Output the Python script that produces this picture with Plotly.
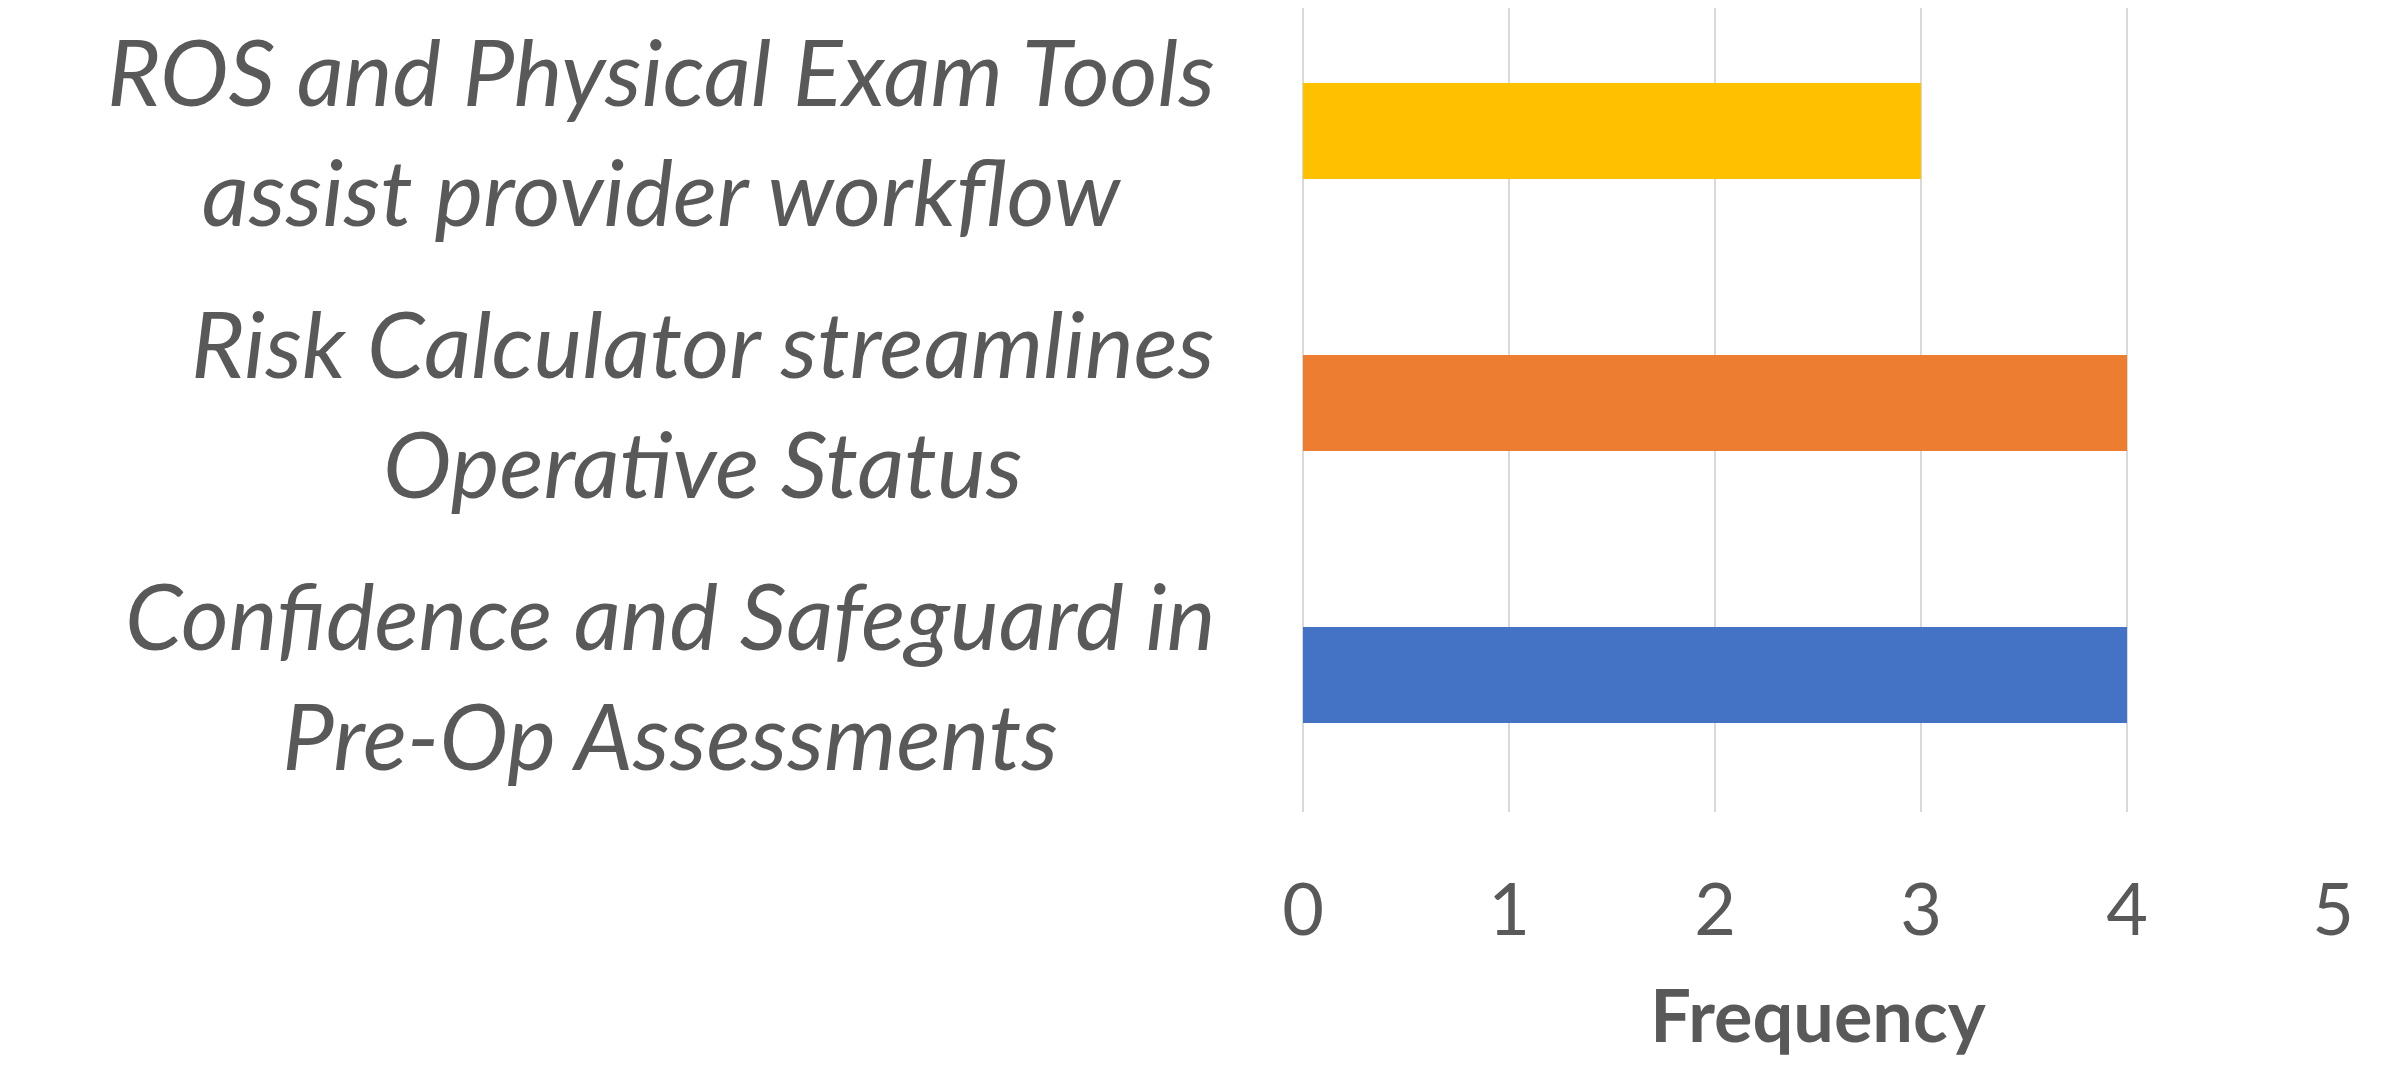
import plotly.graph_objects as go

categories = [
    "Confidence and Safeguard in<br>Pre-Op Assessments",
    "Risk Calculator streamlines<br>Operative Status",
    "ROS and Physical Exam Tools<br>assist provider workflow",
]
values = [4, 4, 3]
colors = ["#4472C4", "#ED7D31", "#FFC000"]
x_ticks = [0, 1, 2, 3, 4, 5]
x_title = "Frequency"

TEXT = "#595959"
FONT = "Lato"

fig = go.Figure()
fig.add_trace(go.Bar(
    x=values, y=categories, orientation="h",
    marker=dict(color=colors, line=dict(width=0)),
    showlegend=False,
))

for c in categories:
    fig.add_annotation(
        x=0, xref="paper", y=c, yref="y",
        text=f"<i>{c}</i>", showarrow=False,
        xanchor="right", yanchor="middle", align="center",
        xshift=-86,
        font=dict(family=FONT, size=92, color=TEXT),
    )

fig.update_layout(
    width=2382, height=1049,
    margin=dict(l=1295, r=57, t=0, b=245),
    paper_bgcolor="white", plot_bgcolor="white",
    bargap=0.647,
    font=dict(family=FONT, color=TEXT),
)
fig.update_xaxes(
    range=[0, 5], tickvals=x_ticks, ticktext=[str(t) for t in x_ticks],
    showgrid=True, gridcolor="#D9D9D9", gridwidth=2,
    zeroline=True, zerolinecolor="#D9D9D9", zerolinewidth=2,
    showline=False,
    ticks="outside", ticklen=36, tickcolor="rgba(0,0,0,0)",
    tickfont=dict(family=FONT, size=72, color=TEXT),
    title=dict(text=f"<b>{x_title}</b>", font=dict(family=FONT, size=72, color=TEXT), standoff=42),
)
fig.update_yaxes(range=[-0.504, 2.452], showticklabels=False, showgrid=False,
                 zeroline=False, showline=False, ticks="")

fig.write_html("out.html")
